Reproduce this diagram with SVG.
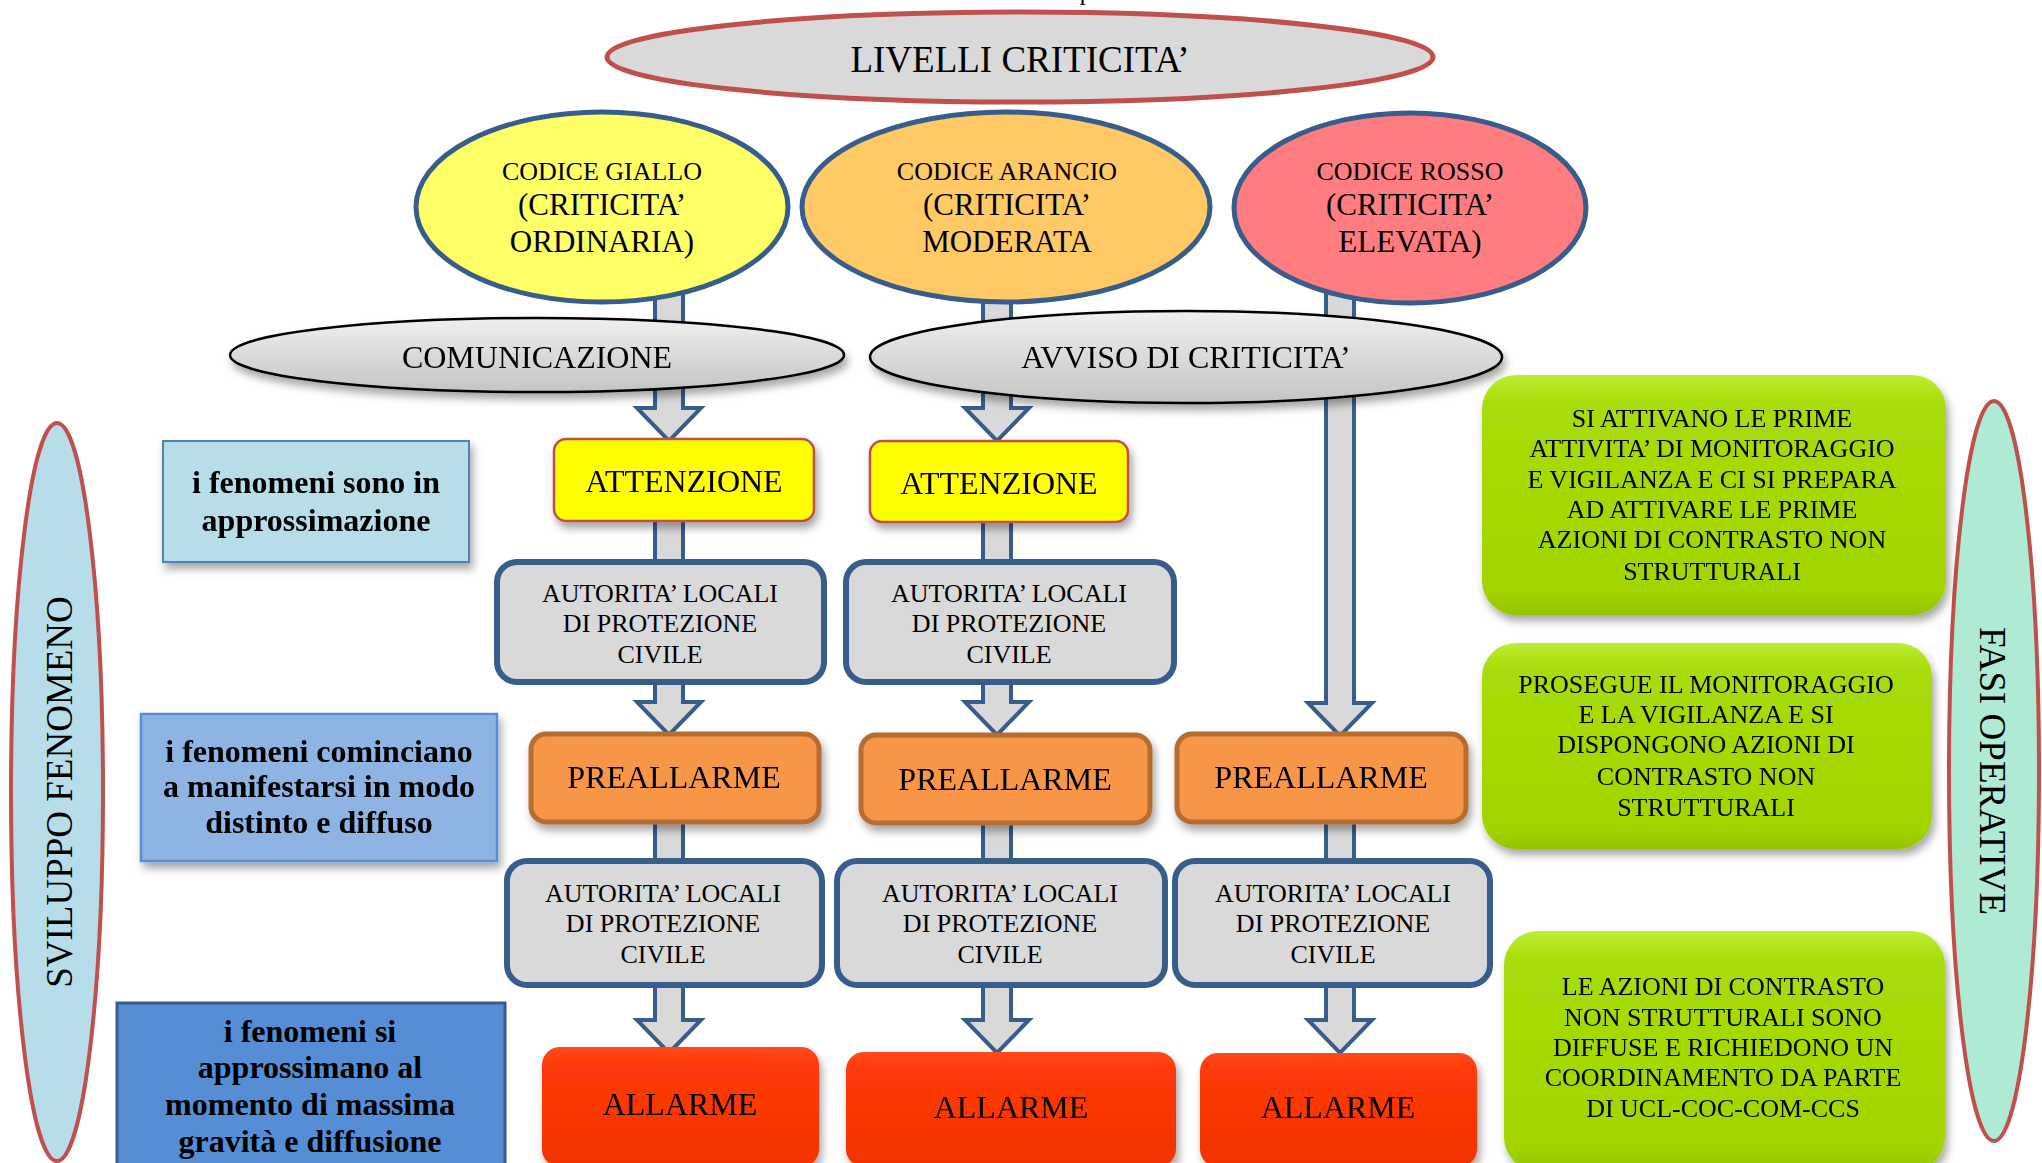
<svg xmlns="http://www.w3.org/2000/svg" width="2042" height="1163" viewBox="0 0 2042 1163">
<defs>
<filter id="sh" x="-10%" y="-10%" width="125%" height="130%">
<feDropShadow dx="3" dy="6" stdDeviation="4" flood-color="#000" flood-opacity="0.35"/>
</filter>
<linearGradient id="gGrey" x1="0" y1="0" x2="0" y2="1">
<stop offset="0" stop-color="#f0f0f0"/>
<stop offset="1" stop-color="#c4c4c4"/>
</linearGradient>
<linearGradient id="gGreen" x1="0" y1="0" x2="0" y2="1">
<stop offset="0" stop-color="#bcee33"/>
<stop offset="0.12" stop-color="#a8dc08"/>
<stop offset="0.9" stop-color="#a2d500"/>
<stop offset="1" stop-color="#94c400"/>
</linearGradient>
<linearGradient id="gRed" x1="0" y1="0" x2="0" y2="1">
<stop offset="0" stop-color="#ff4a1c"/>
<stop offset="0.15" stop-color="#ff3a08"/>
<stop offset="1" stop-color="#f23300"/>
</linearGradient>
</defs>
<style>
text{font-family:"Liberation Serif","Times New Roman",serif;fill:#000;text-anchor:middle}
.arr{fill:#d9d9d9;stroke:#385d8a;stroke-width:4;stroke-linejoin:miter}
.aut{fill:#d9d9d9;stroke:#385d8a;stroke-width:6}
.att{fill:#ffff00;stroke:#c0504d;stroke-width:2.5}
.pre{fill:#f79646;stroke:#b66d31;stroke-width:5}
.all{fill:url(#gRed);stroke:none}
.grn{fill:url(#gGreen);stroke:none}
.cod{stroke:#385d8a;stroke-width:5}
.ov{fill:url(#gGrey);stroke:#000;stroke-width:2.5}
.side{stroke:#c0504d;stroke-width:4}
.t26{font-size:26px}
.t31{font-size:31px}
.t32{font-size:32px}
.b32{font-size:32px;font-weight:bold}
.t37{font-size:37px}
</style>
<rect width="2042" height="1163" fill="#fff"/>
<text x="1086" y="0" class="t26">p</text>

<g id="connectors">
<path class="arr" d="M655,290 V408 H637 L669,441 L701,408 H683 V290 Z"/>
<path class="arr" d="M983,290 V408 H965 L997,441 L1029,408 H1011 V290 Z"/>
<path class="arr" d="M1326,292 V703 H1308 L1340,736 L1372,703 H1354 V292 Z"/>
<rect class="arr" x="655" y="518" width="28" height="46"/>
<rect class="arr" x="983" y="518" width="28" height="46"/>
<path class="arr" d="M655,680 V702 H637 L669,735 L701,702 H683 V680 Z"/>
<path class="arr" d="M983,680 V702 H965 L997,735 L1029,702 H1011 V680 Z"/>
<rect class="arr" x="655" y="820" width="28" height="44"/>
<rect class="arr" x="983" y="820" width="28" height="44"/>
<rect class="arr" x="1326" y="820" width="28" height="44"/>
<path class="arr" d="M655,984 V1020 H637 L669,1053 L701,1020 H683 V984 Z"/>
<path class="arr" d="M983,984 V1020 H965 L997,1053 L1029,1020 H1011 V984 Z"/>
<path class="arr" d="M1326,984 V1020 H1308 L1340,1053 L1372,1020 H1354 V984 Z"/>
</g>

<g id="livelli">
<ellipse cx="1020" cy="57" rx="413" ry="45" fill="#d9d9d9" stroke="#c0504d" stroke-width="5"/>
<text x="1020" y="72" class="t37">LIVELLI CRITICITA’</text>
</g>

<g id="giallo">
<ellipse class="cod" cx="602" cy="207" rx="186" ry="95" fill="#ffff66"/>
<text x="602" y="180" class="t26">CODICE GIALLO</text>
<text x="602" y="215" class="t31">(CRITICITA’</text>
<text x="602" y="252" class="t31">ORDINARIA)</text>
</g>
<g id="arancio">
<ellipse class="cod" cx="1006" cy="207" rx="204" ry="95" fill="#ffc965"/>
<text x="1007" y="180" class="t26">CODICE ARANCIO</text>
<text x="1007" y="215" class="t31">(CRITICITA’</text>
<text x="1007" y="252" class="t31">MODERATA</text>
</g>
<g id="rosso">
<ellipse class="cod" cx="1410" cy="208" rx="176" ry="95" fill="#ff7c80"/>
<text x="1410" y="180" class="t26">CODICE ROSSO</text>
<text x="1410" y="215" class="t31">(CRITICITA’</text>
<text x="1410" y="252" class="t31">ELEVATA)</text>
</g>

<g id="comunicazione" filter="url(#sh)">
<ellipse class="ov" cx="537" cy="355" rx="307" ry="37"/>
<text x="537" y="368" class="t32">COMUNICAZIONE</text>
</g>
<g id="avviso" filter="url(#sh)">
<ellipse class="ov" cx="1186" cy="357" rx="316" ry="46"/>
<text x="1186" y="368" class="t32">AVVISO DI CRITICITA’</text>
</g>

<g id="attenzione1" filter="url(#sh)">
<rect class="att" x="554" y="439" width="260" height="82" rx="12"/>
<text x="684" y="492" class="t32">ATTENZIONE</text>
</g>
<g id="attenzione2" filter="url(#sh)">
<rect class="att" x="870" y="441" width="258" height="81" rx="12"/>
<text x="999" y="494" class="t32">ATTENZIONE</text>
</g>

<g id="autorita1">
<rect class="aut" x="497" y="562" width="327" height="120" rx="20"/>
<text x="660" y="602" class="t26">AUTORITA’ LOCALI</text>
<text x="660" y="632" class="t26">DI PROTEZIONE</text>
<text x="660" y="663" class="t26">CIVILE</text>
</g>
<g id="autorita2">
<rect class="aut" x="846" y="562" width="328" height="120" rx="20"/>
<text x="1009" y="602" class="t26">AUTORITA’ LOCALI</text>
<text x="1009" y="632" class="t26">DI PROTEZIONE</text>
<text x="1009" y="663" class="t26">CIVILE</text>
</g>

<g id="preallarme1" filter="url(#sh)">
<rect class="pre" x="531" y="734" width="288" height="88" rx="15"/>
<text x="674" y="788" class="t32">PREALLARME</text>
</g>
<g id="preallarme2" filter="url(#sh)">
<rect class="pre" x="861" y="735" width="289" height="88" rx="15"/>
<text x="1005" y="790" class="t32">PREALLARME</text>
</g>
<g id="preallarme3" filter="url(#sh)">
<rect class="pre" x="1177" y="734" width="289" height="88" rx="15"/>
<text x="1321" y="788" class="t32">PREALLARME</text>
</g>

<g id="autorita3">
<rect class="aut" x="507" y="861" width="315" height="124" rx="20"/>
<text x="663" y="902" class="t26">AUTORITA’ LOCALI</text>
<text x="663" y="932" class="t26">DI PROTEZIONE</text>
<text x="663" y="963" class="t26">CIVILE</text>
</g>
<g id="autorita4">
<rect class="aut" x="837" y="861" width="328" height="124" rx="20"/>
<text x="1000" y="902" class="t26">AUTORITA’ LOCALI</text>
<text x="1000" y="932" class="t26">DI PROTEZIONE</text>
<text x="1000" y="963" class="t26">CIVILE</text>
</g>
<g id="autorita5">
<rect class="aut" x="1175" y="861" width="315" height="124" rx="20"/>
<text x="1333" y="902" class="t26">AUTORITA’ LOCALI</text>
<text x="1333" y="932" class="t26">DI PROTEZIONE</text>
<text x="1333" y="963" class="t26">CIVILE</text>
</g>

<g id="allarme1" filter="url(#sh)">
<rect class="all" x="542" y="1047" width="277" height="120" rx="18"/>
<text x="680" y="1115" class="t32">ALLARME</text>
</g>
<g id="allarme2" filter="url(#sh)">
<rect class="all" x="846" y="1052" width="330" height="115" rx="18"/>
<text x="1011" y="1118" class="t32">ALLARME</text>
</g>
<g id="allarme3" filter="url(#sh)">
<rect class="all" x="1200" y="1053" width="277" height="114" rx="18"/>
<text x="1338" y="1118" class="t32">ALLARME</text>
</g>

<g id="fenomeni1" filter="url(#sh)">
<rect x="163" y="441" width="306" height="121" fill="#b7dde8" stroke="#4f81bd" stroke-width="2"/>
<text x="316" y="493" class="b32">i fenomeni sono in</text>
<text x="316" y="531" class="b32">approssimazione</text>
</g>
<g id="fenomeni2" filter="url(#sh)">
<rect x="141" y="714" width="356" height="147" fill="#8eb4e3" stroke="#558ed5" stroke-width="2.5"/>
<text x="319" y="762" class="b32">i fenomeni cominciano</text>
<text x="319" y="797" class="b32">a manifestarsi in modo</text>
<text x="319" y="833" class="b32">distinto e diffuso</text>
</g>
<g id="fenomeni3">
<rect x="117" y="1003" width="388" height="170" fill="#558ed5" stroke="#385d8a" stroke-width="3"/>
<text x="310" y="1042" class="b32">i fenomeni si</text>
<text x="310" y="1078" class="b32">approssimano al</text>
<text x="310" y="1115" class="b32">momento di massima</text>
<text x="310" y="1152" class="b32">gravità e diffusione</text>
</g>

<g id="sviluppo">
<ellipse class="side" cx="57" cy="792" rx="46" ry="369" fill="#b7dde8"/>
<text transform="translate(72,792) rotate(-90)" class="t37">SVILUPPO FENOMENO</text>
</g>
<g id="fasi">
<ellipse class="side" cx="1994" cy="771" rx="45" ry="370" fill="#aeead4"/>
<text transform="translate(1980,771) rotate(90)" class="t37">FASI OPERATIVE</text>
</g>

<g id="fase1" filter="url(#sh)">
<rect class="grn" x="1482" y="375" width="464" height="240" rx="34"/>
<text x="1712" y="427" class="t26">SI ATTIVANO LE PRIME</text>
<text x="1712" y="457" class="t26">ATTIVITA’ DI MONITORAGGIO</text>
<text x="1712" y="488" class="t26">E VIGILANZA E CI SI PREPARA</text>
<text x="1712" y="518" class="t26">AD ATTIVARE LE PRIME</text>
<text x="1712" y="548" class="t26">AZIONI DI CONTRASTO NON</text>
<text x="1712" y="580" class="t26">STRUTTURALI</text>
</g>
<g id="fase2" filter="url(#sh)">
<rect class="grn" x="1482" y="643" width="450" height="206" rx="34"/>
<text x="1706" y="693" class="t26">PROSEGUE IL MONITORAGGIO</text>
<text x="1706" y="723" class="t26">E LA VIGILANZA E SI</text>
<text x="1706" y="753" class="t26">DISPONGONO AZIONI DI</text>
<text x="1706" y="785" class="t26">CONTRASTO NON</text>
<text x="1706" y="816" class="t26">STRUTTURALI</text>
</g>
<g id="fase3" filter="url(#sh)">
<rect class="grn" x="1504" y="931" width="441" height="240" rx="34"/>
<text x="1723" y="995" class="t26">LE AZIONI DI CONTRASTO</text>
<text x="1723" y="1026" class="t26">NON STRUTTURALI SONO</text>
<text x="1723" y="1056" class="t26">DIFFUSE E RICHIEDONO UN</text>
<text x="1723" y="1086" class="t26">COORDINAMENTO DA PARTE</text>
<text x="1723" y="1117" class="t26">DI UCL-COC-COM-CCS</text>
</g>
</svg>
